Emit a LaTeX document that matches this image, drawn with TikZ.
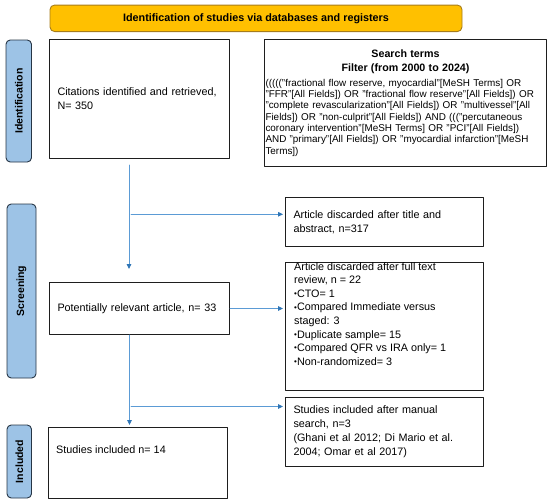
\documentclass[tikz,border=0pt]{standalone}
\usepackage{fontspec}
\setmainfont{Liberation Sans}
\usepackage{tikz}
\usetikzlibrary{arrows.meta,positioning,calc}
\definecolor{gold}{HTML}{FFC000}
\definecolor{golddark}{HTML}{A67C1B}
\definecolor{phaseblue}{HTML}{9DC3E6}
\definecolor{slate}{HTML}{263545}
\definecolor{lineblue}{HTML}{5B9BD5}
\definecolor{tipblue}{HTML}{2E75B6}
\definecolor{ink}{HTML}{1E1E1E}
\newcommand{\termline}[1]{\hspace*{-5pt}\makebox[275pt][s]{#1}}
\newcommand{\listbul}{{\fontsize{8}{8}\selectfont\raisebox{0.8pt}{•}}}
\tikzset{
    every picture/.style={line cap=round,line join=round},
    titlebar/.style={draw=golddark,fill=gold,line width=0.9pt,rounded corners=1.6mm,
      minimum width=412pt,minimum height=26.5pt,inner sep=0pt,
      font=\fontsize{10.8}{13}\selectfont\bfseries},
    phaselabel/.style={draw=slate,fill=phaseblue,line width=0.9pt,rounded corners=1.5mm,
      inner sep=0pt,rotate=90,font=\fontsize{10.5}{12}\selectfont\bfseries},
    stagebox/.style={draw=ink,line width=1pt,anchor=north west,
      inner xsep=8pt,inner ysep=0pt,align=left,font=\fontsize{10.8}{14}\selectfont},
    listtext/.style={inner sep=0pt,align=left,font=\fontsize{10.8}{13.6}\selectfont},
    flowarrow/.style={-{Triangle[length=5pt,width=4.6pt,color=tipblue]},draw=lineblue,
      line width=0.8pt},
}

\begin{document}
\begin{tikzpicture}[x=1pt,y=-1pt]
  \useasboundingbox (0,0) rectangle (550,501);
  % header bar
  \node[titlebar] (head) at (256,18.3) {Identification of studies via databases and registers};
  % phase labels
  \node[phaselabel,minimum width=122pt,minimum height=25.5pt] (idphase) at (18.75,101) {Identification};
  \node[phaselabel,minimum width=174pt,minimum height=29pt] (scrphase) at (21.5,291) {Screening};
  \node[phaselabel,minimum width=73pt,minimum height=24.5pt] (inclphase) at (19.25,461.5) {Included};
  % boxes
  \node[stagebox,minimum width=180pt,minimum height=119pt,text width=164pt] (cit) at (49,39)
    {Citations identified and retrieved,\\N= 350};
  \node[stagebox,minimum width=282pt,minimum height=127pt,text width=276pt,inner xsep=0pt,
    align=center,font=\fontsize{9.9}{11.3}\selectfont] (search) at (264,39)
    {{\fontsize{10.7}{13}\selectfont\bfseries Search terms}\\[2.6pt]
     {\fontsize{10.7}{13}\selectfont\bfseries Filter (from 2000 to 2024)}\\[3.6pt]
     \termline{((((("fractional flow reserve, myocardial"[MeSH Terms] OR}\\
     \termline{"FFR"[All Fields]) OR "fractional flow reserve"[All Fields]) OR}\\
     \termline{"complete revascularization"[All Fields]) OR "multivessel"[All}\\
     \termline{Fields]) OR "non-culprit"[All Fields]) AND ((("percutaneous}\\
     \termline{coronary intervention"[MeSH Terms] OR "PCI"[All Fields])}\\
     \termline{AND "primary"[All Fields]) OR "myocardial infarction"[MeSH}\\
     \hspace*{-5pt}\makebox[275pt][l]{Terms])}};
  \node[stagebox,minimum width=198pt,minimum height=49pt,text width=182pt] (disc1) at (285,197)
    {Article discarded after title and\\abstract, n=317};
  \node[stagebox,minimum width=180pt,minimum height=52pt,text width=164pt] (pot) at (49,282)
    {Potentially relevant article, n= 33};
  \node[stagebox,minimum width=198pt,minimum height=128pt] (disc2) at (285,262) {};
  \node[listtext,below right=0pt and 9pt of disc2.north west] (disc2text)
    {Article discarded after full text\\
     review, n = 22\\
     \listbul CTO= 1\\
     \listbul Compared Immediate versus\\
     staged: 3\\
     \listbul Duplicate sample= 15\\
     \listbul Compared QFR vs IRA only= 1\\
     \listbul Non-randomized= 3};
  \node[stagebox,minimum width=198pt,minimum height=69pt,text width=182pt] (manual) at (285,397)
    {Studies included after manual\\search, n=3\\(Ghani et al 2012; Di Mario et al.\\2004; Omar et al 2017)};
  \node[stagebox,minimum width=179pt,minimum height=71pt] (incl) at (48,427) {};
  \node[listtext,below right=18pt and 8pt of incl.north west] (incltext) {Studies included n= 14};
  % connectors
  \coordinate (v1) at (129,165);
  \coordinate (j1) at (131,214.3);
  \coordinate (v2) at ([xshift=-10pt]pot.south);
  \coordinate (j2) at (131,406.5);
  \draw[flowarrow] (v1) -- ($(v1 |- pot.north)+(0,-13)$);
  \draw[flowarrow,shorten >=2pt] (j1) -- (j1 -| disc1.west);
  \draw[flowarrow,shorten >=2pt] (pot.east) -- (pot.east -| disc2.west);
  \draw[flowarrow,shorten >=2pt] (v2) -- (v2 |- incl.north);
  \draw[flowarrow,shorten >=2pt] (j2) -- (j2 -| manual.west);
\end{tikzpicture}
\end{document}
